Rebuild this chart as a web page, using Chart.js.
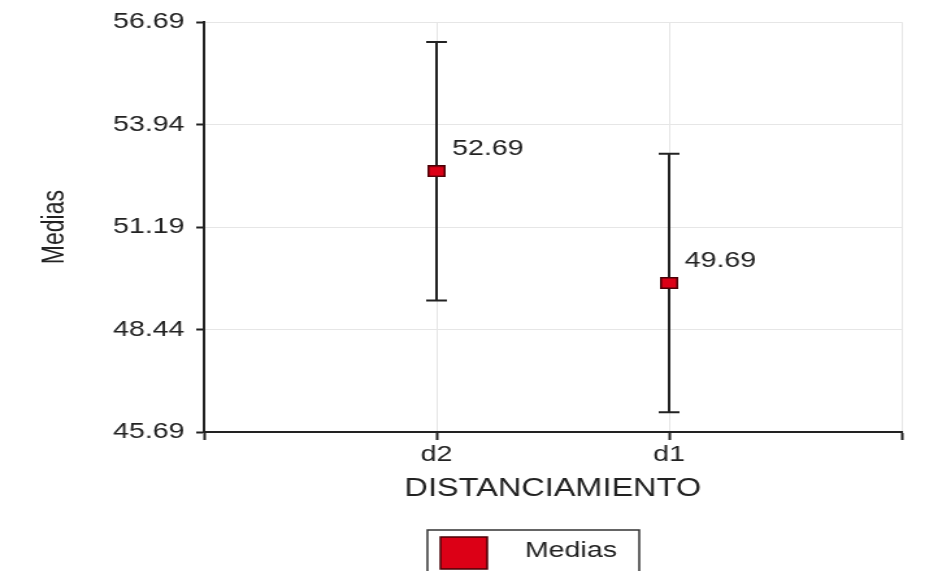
<!DOCTYPE html>
<html>
<head>
<meta charset="utf-8">
<script src="https://cdn.jsdelivr.net/npm/chart.js@4"></script>
<style>
  html, body { margin: 0; padding: 0; background: #fff; overflow: hidden; }
  #wrap { width: 722px; height: 571px; transform: scaleX(1.2992); transform-origin: 0 0; }
  #c { width: 722px; height: 571px; display: block; }
</style>
</head>
<body>
<div id="wrap"><canvas id="c" width="722" height="571"></canvas></div>
<script>
const categories = ['d2', 'd1'];
const means = [52.69, 49.69];
const lower = [49.22, 46.22];
const upper = [56.16, 53.16];
const yTicks = [45.69, 48.44, 51.19, 53.94, 56.69];
const xTicks = [0, 1, 2, 3];

const FONT = "'Liberation Sans', Arial, sans-serif";
const TEXT = '#222';

// red square marker, a bit wider than tall
const marker = document.createElement('canvas');
marker.width = 14;
marker.height = 12;
(() => {
    const m = marker.getContext('2d');
    m.fillStyle = '#dc0016';
    m.fillRect(0, 0, 14, 12);
    m.strokeStyle = '#4a0006';
    m.lineWidth = 1.5;
    m.strokeRect(0.75, 0.75, 12.5, 10.5);
})();

const errorBars = {
    id: 'errorBars',
    beforeDatasetsDraw(chart) {
        const { ctx, scales: { x, y } } = chart;
        ctx.save();
        ctx.strokeStyle = '#222';
        ctx.lineWidth = 2;
        means.forEach((m, i) => {
            const px = x.getPixelForValue(i + 1);
            const top = y.getPixelForValue(upper[i]);
            const bot = y.getPixelForValue(lower[i]);
            ctx.beginPath();
            ctx.moveTo(px, top); ctx.lineTo(px, bot);
            ctx.moveTo(px - 8, top); ctx.lineTo(px + 8, top);
            ctx.moveTo(px - 8, bot); ctx.lineTo(px + 8, bot);
            ctx.stroke();
        });
        ctx.restore();
    },
    afterDatasetsDraw(chart) {
        const { ctx, scales: { x, y } } = chart;
        ctx.save();
        ctx.fillStyle = TEXT;
        ctx.font = '22px ' + FONT;
        ctx.textAlign = 'left';
        ctx.textBaseline = 'middle';
        means.forEach((m, i) => {
            const px = x.getPixelForValue(i + 1);
            const py = y.getPixelForValue(m);
            ctx.fillText(m.toFixed(2), px + 12, py - 22);
        });
        ctx.restore();
    }
};

const boxLegend = {
    id: 'boxLegend',
    afterDraw(chart) {
        const { ctx } = chart;
        const ds = chart.data.datasets[0];
        ctx.save();
        ctx.strokeStyle = '#333';
        ctx.lineWidth = 1.5;
        ctx.strokeRect(329, 530, 163, 60);
        ctx.fillStyle = '#dc0016';
        ctx.fillRect(339, 537, 36, 32);
        ctx.strokeStyle = '#4a0006';
        ctx.strokeRect(339, 537, 36, 32);
        ctx.fillStyle = TEXT;
        ctx.font = '22px ' + FONT;
        ctx.textAlign = 'left';
        ctx.textBaseline = 'middle';
        ctx.fillText(ds.label, 404, 551);
        ctx.restore();
    }
};

new Chart(document.getElementById('c'), {
    type: 'scatter',
    data: {
        datasets: [{
            label: 'Medias',
            data: means.map((m, i) => ({ x: i + 1, y: m })),
            pointStyle: marker,
            pointRadius: 7,
            showLine: false
        }]
    },
    options: {
        responsive: false,
        maintainAspectRatio: false,
        animation: false,
        events: [],
        layout: { padding: { top: 22, right: 28, left: 0, bottom: 0 } },
        plugins: {
            legend: { display: false },
            tooltip: { enabled: false }
        },
        scales: {
            x: {
                type: 'linear',
                min: 0,
                max: 3,
                afterBuildTicks: s => { s.ticks = xTicks.map(v => ({ value: v })); },
                afterFit: s => { s.height = 139; },
                ticks: {
                    color: TEXT,
                    font: { family: FONT, size: 22 },
                    padding: 2,
                    maxRotation: 0,
                    callback: v => categories[v - 1] || ''
                },
                grid: { color: '#e6e6e6', lineWidth: 1, tickColor: '#222', tickWidth: 2, tickLength: 8 },
                border: { color: '#222', width: 2 },
                title: {
                    display: true,
                    text: 'DISTANCIAMIENTO',
                    color: TEXT,
                    font: { family: FONT, size: 25 },
                    padding: { top: 0, bottom: 67 }
                }
            },
            y: {
                min: 45.69,
                max: 56.69,
                afterBuildTicks: s => { s.ticks = yTicks.map(v => ({ value: v })); },
                afterFit: s => { s.width = 157; },
                ticks: {
                    color: TEXT,
                    font: { family: FONT, size: 22 },
                    padding: 9,
                    callback: v => v.toFixed(2)
                },
                grid: { color: '#e6e6e6', lineWidth: 1, tickColor: '#222', tickWidth: 2, tickLength: 6 },
                border: { color: '#222', width: 2 },
                title: {
                    display: true,
                    text: 'Medias',
                    color: TEXT,
                    font: { family: FONT, size: 23 },
                    padding: { top: 29, bottom: 0 }
                }
            }
        }
    },
    plugins: [errorBars, boxLegend]
});
</script>
</body>
</html>
